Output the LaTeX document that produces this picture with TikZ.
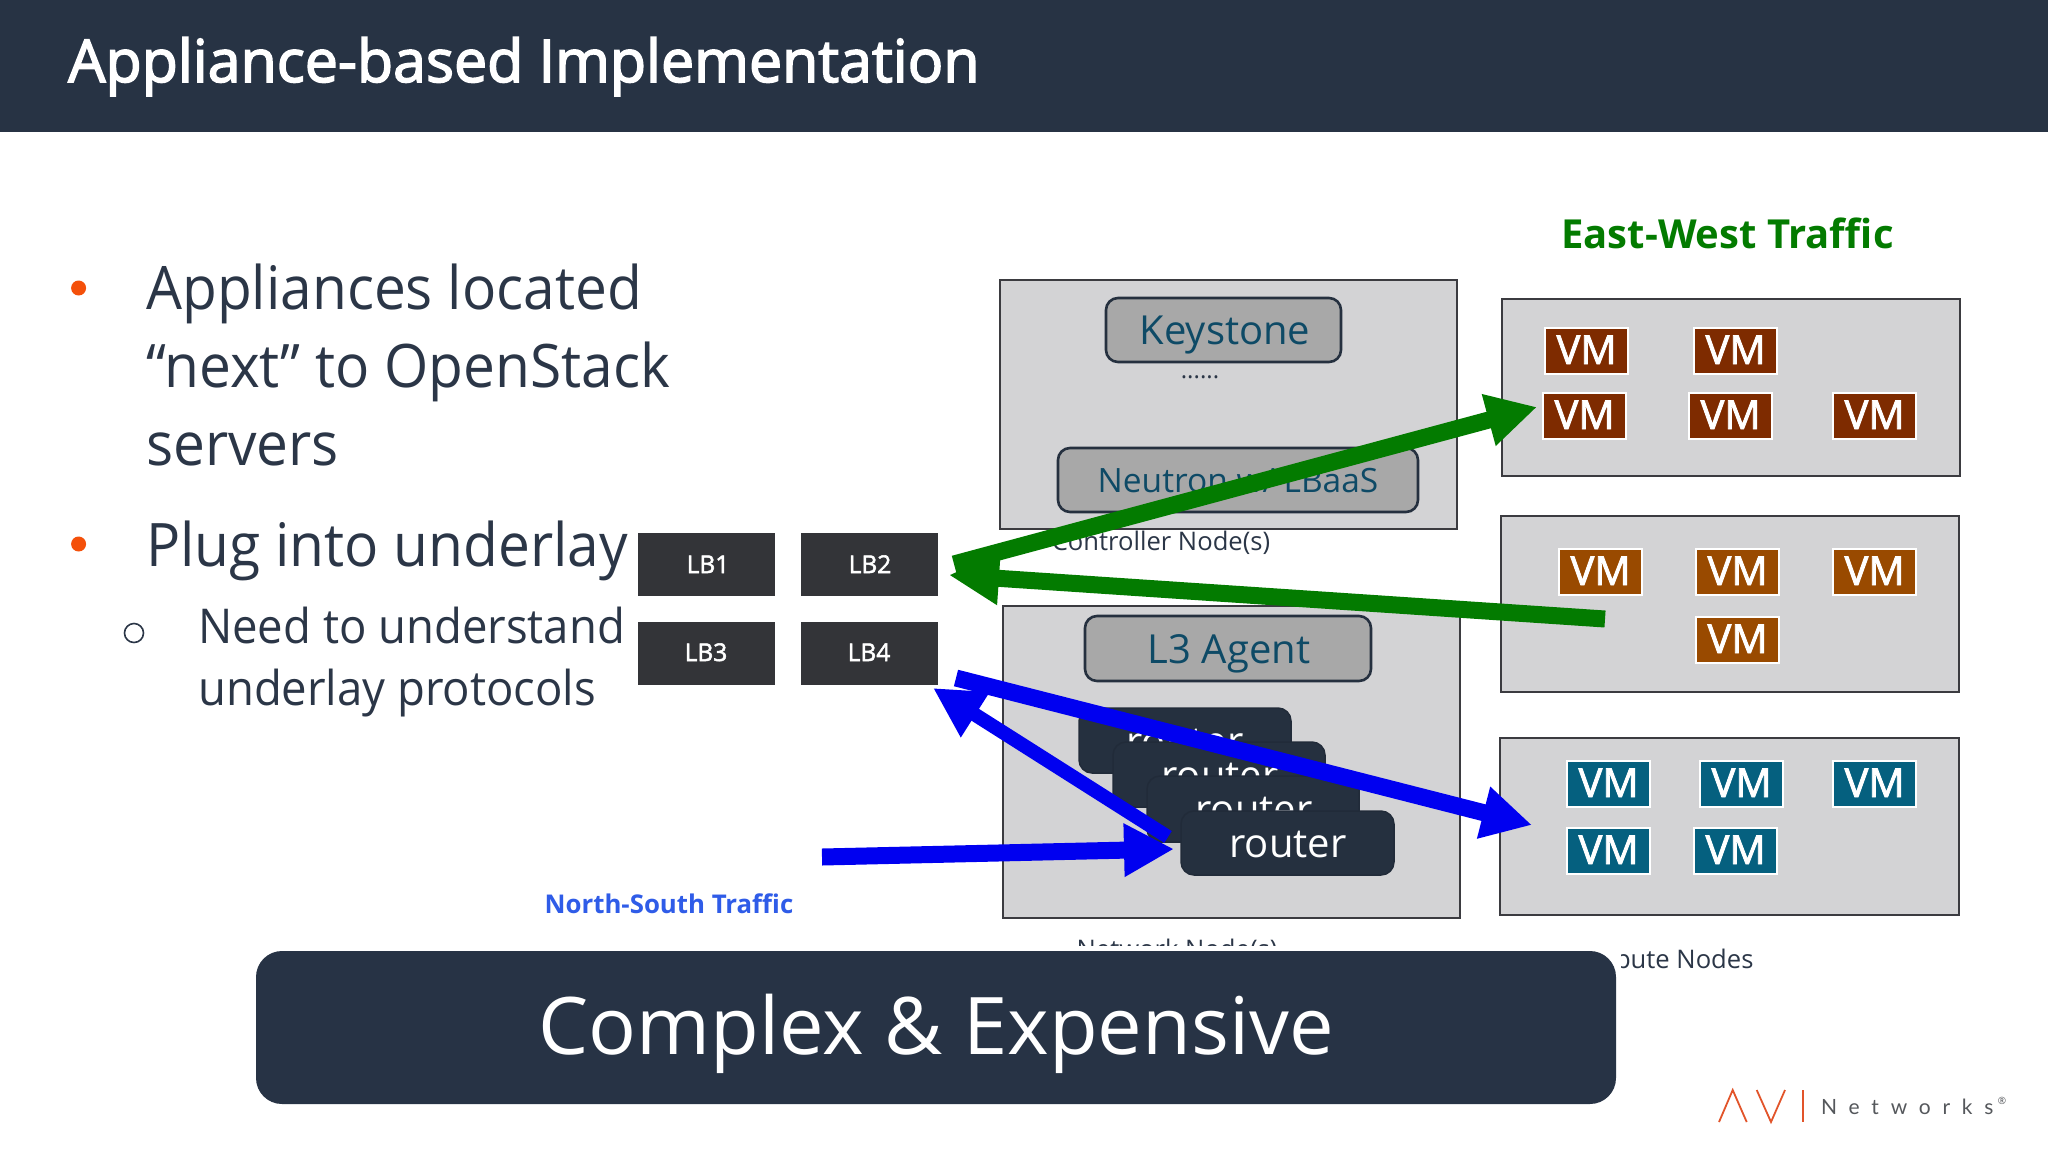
\documentclass[tikz,border=0pt]{standalone}
\usepackage{fontspec}
\setmainfont{Open Sans}
\newfontfamily\titlefont[FakeBold=2.6]{Open Sans}
\newfontfamily\bulletfont[FakeStretch=0.947]{Open Sans}
\newfontfamily\lbfont[FakeBold=2.2]{Open Sans}
\newfontfamily\logofont[LetterSpace=56]{Lato}
\usetikzlibrary{arrows.meta,calc}
\definecolor{navy}{HTML}{273344}
\definecolor{barnavy}{HTML}{273345}
\definecolor{inktext}{HTML}{2B3647}
\definecolor{tealtext}{HTML}{0E4A66}
\definecolor{panelgrey}{HTML}{D3D3D5}
\definecolor{pillgrey}{HTML}{A8A8A8}
\definecolor{edgegrey}{HTML}{3B3B40}
\definecolor{lbgrey}{HTML}{333438}
\definecolor{routernavy}{HTML}{25303F}
\definecolor{vmred}{HTML}{7E2B00}
\definecolor{vmorange}{HTML}{994A00}
\definecolor{vmteal}{HTML}{05607F}
\definecolor{bulletorange}{HTML}{F4500A}
\definecolor{greenarrow}{HTML}{037B00}
\definecolor{bluearrow}{HTML}{0000F0}
\definecolor{logoorange}{HTML}{E2542A}
\definecolor{logogrey}{HTML}{55585C}
\definecolor{labelblue}{HTML}{2F5CE8}
\tikzset{
  x=1pt,y=-1pt,
  panel/.style={draw=edgegrey,line width=2.6pt,fill=panelgrey,rounded corners=0pt},
  pill/.style={draw=routernavy,line width=2.6pt,fill=pillgrey,rounded corners=12pt},
  routerbox/.style={draw=routernavy!90!black,line width=1.5pt,fill=routernavy,rounded corners=13pt},
  lbbox/.style={fill=lbgrey},
  vmbox/.style={draw=white,line width=2.6pt},
  vmtext/.style={text=white,font=\lbfont\fontsize{40}{40}\selectfont,anchor=base},
  lbtext/.style={text=white,font=\lbfont\fontsize{24.5}{24.5}\selectfont,anchor=base},
  pilltext/.style={text=tealtext,font=\fontsize{40}{40}\selectfont,anchor=base},
  routertext/.style={text=white,font=\fontsize{40}{40}\selectfont,anchor=base},
  nodelabel/.style={text=inktext,font=\fontsize{25.6}{25.6}\selectfont,anchor=base},
  bullet/.style={text=inktext,font=\bulletfont\fontsize{60}{60}\selectfont,anchor=base west,inner sep=0pt},
  subbullet/.style={text=inktext,font=\bulletfont\fontsize{48}{48}\selectfont,anchor=base west,inner sep=0pt},
  greenflow/.style={draw=greenarrow,line width=17pt,-{Triangle[length=50pt,width=50pt]}},
  blueflow/.style={draw=bluearrow,line width=17pt,-{Triangle[length=50pt,width=50pt]}},
  logoline/.style={draw=logoorange,line width=1.8pt},
}
\begin{document}
\begin{tikzpicture}
\useasboundingbox (0,0) rectangle (2048,1152);
\fill[white] (0,0) rectangle (2048,1152);
% header
\fill[navy] (0,0) rectangle (2048,132);
\node[anchor=base west,inner sep=0pt,text=white,font=\titlefont\fontsize{59}{59}\selectfont] (title) at (68,82) {Appliance-based Implementation};
% bullets
\fill[bulletorange] (78.6,288) circle (7.5);
\node[bullet] (b1a) at (146,309) {Appliances located};
\node[bullet] (b1b) at (146,387) {“next” to OpenStack};
\node[bullet] (b1c) at (146,465) {servers};
\fill[bulletorange] (78.6,544) circle (7.5);
\node[bullet] (b2) at (146,566) {Plug into underlay};
\draw[inktext,line width=1.6pt] (134,633) circle (9.5);
\node[subbullet] (b3a) at (198,643) {Need to understand};
\node[subbullet] (b3b) at (198,705) {underlay protocols};
% traffic labels
\node[anchor=base,text=greenarrow,font=\bfseries\fontsize{40}{40}\selectfont,inner sep=0pt] (ew) at (1727.5,248) {East-West Traffic};
\node[anchor=base,text=labelblue,font=\bfseries\fontsize{25.8}{25.8}\selectfont,inner sep=0pt] (ns) at (669,913) {North-South Traffic};
% controller
\draw[panel] (1000,280) rectangle (1457,529);
\draw[pill] (1106,298) rectangle (1341,362);
\node[pilltext] (keystone) at (1225,344) {Keystone};
\node[anchor=base,text=inktext,font=\fontsize{24}{24}\selectfont] (dots) at (1200,378) {......};
\draw[pill] (1058,448) rectangle (1418,512);
\node[pilltext,font=\fontsize{33.5}{33.5}\selectfont] (neutron) at (1238,492) {Neutron w/ LBaaS};
\node[nodelabel] (ctl) at (1161,550) {Controller Node(s)};
% network
\draw[panel] (1003,606) rectangle (1460,918);
\draw[pill] (1085,616) rectangle (1371,681);
\node[pilltext] (l3) at (1229,663) {L3 Agent};
\draw[routerbox] (1079,708) rectangle (1291,773);
\node[routertext] (r1) at (1185,755) {router};
\draw[routerbox] (1113,742) rectangle (1325,807);
\node[routertext] (r2) at (1220,789) {router};
\draw[routerbox] (1147,776) rectangle (1359,842);
\node[routertext] (r3) at (1254,823) {router};
\draw[routerbox] (1181,811) rectangle (1394,875);
\node[routertext] (r4) at (1288,857) {router};
\node[nodelabel] (net) at (1177,958) {Network Node(s)};
% compute
\draw[panel] (1502,299) rectangle (1960,476);
\draw[panel] (1501,516) rectangle (1959,692);
\draw[panel] (1500,738) rectangle (1959,915);
\foreach \xa/\ya/\name in {1545/328/a,1694/328/b,1543/393/c,1689/393/d,1833/393/e}{
  \draw[vmbox,fill=vmred] (\xa,\ya) rectangle ++(83,46);
  \node[vmtext] (vm\name) at (\xa+41.5,\ya+36) {VM};
}
\foreach \xa/\ya/\name in {1559/549/f,1696/549/g,1833/549/h,1696/617/i}{
  \draw[vmbox,fill=vmorange] (\xa,\ya) rectangle ++(83,46);
  \node[vmtext] (vm\name) at (\xa+41.5,\ya+36) {VM};
}
\foreach \xa/\ya/\name in {1567/761/j,1700/761/k,1833/761/l,1567/828/m,1694/828/n}{
  \draw[vmbox,fill=vmteal] (\xa,\ya) rectangle ++(83,46);
  \node[vmtext] (vm\name) at (\xa+41.5,\ya+36) {VM};
}
\node[nodelabel,anchor=base east] (cmp) at (1757,968) {Compute Nodes};
% LB
\fill[lbbox] (638,533) rectangle (775,596);
\node[lbtext] (lb1) at (708,573) {LB1};
\fill[lbbox] (801,533) rectangle (938,596);
\node[lbtext] (lb2) at (870,573) {LB2};
\fill[lbbox] (638,622) rectangle (775,685);
\node[lbtext] (lb3) at (706,661) {LB3};
\fill[lbbox] (801,622) rectangle (938,685);
\node[lbtext] (lb4) at (869,661) {LB4};
% arrows
\coordinate (gw1) at (954,564);
\coordinate (gw1e) at (1537,407);
\coordinate (gw2) at (1605,619);
\coordinate (gw2e) at (949,575);
\coordinate (bn1) at (956,678);
\coordinate (bn1e) at (1532,825);
\coordinate (bn2) at (1168,837);
\coordinate (bn2e) at (933,688);
\coordinate (bn3) at (822,857);
\coordinate (bn3e) at (1174,849);
\draw[greenflow] (gw1) -- (gw1e);
\draw[greenflow] (gw2) -- (gw2e);
\draw[blueflow] (bn1) -- (bn1e);
\draw[blueflow,line width=14pt] (bn2) -- (bn2e);
\draw[blueflow] (bn3) -- (bn3e);
% white margin that cuts the labels above the bar
\fill[white] (256,946) rectangle (1621,1000);
% bar
\fill[barnavy,rounded corners=26pt] (256,951) rectangle (1616,1104);
\node[text=white,font=\fontsize{79.5}{79.5}\selectfont,anchor=base] (bar) at (936,1054) {Complex \& Expensive};
% logo
\draw[logoline] (1719,1122) -- (1732.7,1090) -- (1746.7,1122);
\draw[logoline] (1756.7,1090) -- (1771,1122) -- (1785,1090);
\draw[logoline] (1802.7,1090) -- (1802.7,1122);
\node[anchor=base west,inner sep=0pt,text=logogrey,font=\logofont\fontsize{21}{21}\selectfont] (logo) at (1821,1114) {Networks};
\node[anchor=center,inner sep=0pt,text=logogrey,font=\fontsize{10}{10}\selectfont] (reg) at (2002,1101) {®};
\end{tikzpicture}
\end{document}
